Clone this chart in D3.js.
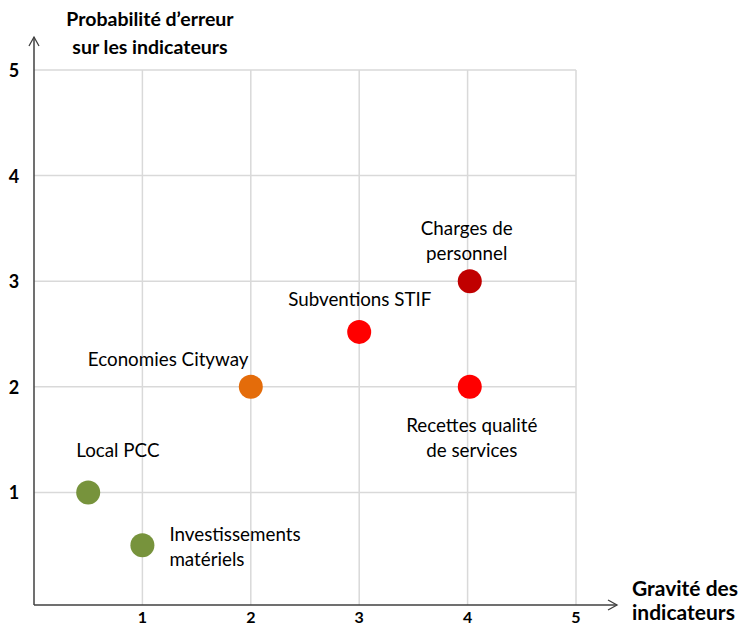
<!DOCTYPE html>
<html>
<head>
<meta charset="utf-8">
<script src="https://cdn.jsdelivr.net/npm/d3@7"></script>
<style>
  body { margin: 0; background: #fff; }
  text { font-family: Lato, "Open Sans", sans-serif; fill: #000; }
</style>
</head>
<body>
<div id="chart"></div>
<script>
// indicateurs
var names = ["Local PCC", "Investissements matériels", "Economies Cityway",
             "Subventions STIF", "Charges de personnel", "Recettes qualité de services"];
var gravite = [0.5, 1, 2, 3, 4.02, 4.02];
var probabilite = [1, 0.5, 2, 2.52, 3, 2];
var colors = ["#77933c", "#77933c", "#e46c0a", "#ff0000", "#c00000", "#ff0000"];
var ticks = [1, 2, 3, 4, 5];

// label lines + offset from point (px), anchor
var labelLines = [["Local PCC"], ["Investissements", "matériels"], ["Economies Cityway"],
                  ["Subventions STIF"], ["Charges de", "personnel"], ["Recettes qualité", "de services"]];
var labelPos = [
  { dx: -12, dy: -35, anchor: "start" },
  { dx: 27, dy: -4, anchor: "start" },
  { dx: -163, dy: -21, anchor: "start" },
  { dx: -71, dy: -26, anchor: "start" },
  { dx: -3, dy: -46, anchor: "middle" },
  { dx: 2, dy: 45, anchor: "middle" }
];

var width = 746, height = 628;

var svg = d3.select("#chart")
    .append("svg")
    .attr("width", width)
    .attr("height", height);

var x = d3.scaleLinear().domain([0, 5]).range([34, 576]);
var y = d3.scaleLinear().domain([0, 5]).range([598, 70]);
var axisY = 605;

// grid
svg.append("g")
    .selectAll("line")
    .data(ticks)
    .enter()
    .append("line")
    .attr("x1", function(d) { return x(d); })
    .attr("x2", function(d) { return x(d); })
    .attr("y1", y(5))
    .attr("y2", axisY)
    .attr("stroke", "#d9d9d9")
    .attr("stroke-width", 1.5);

svg.append("g")
    .selectAll("line")
    .data(ticks)
    .enter()
    .append("line")
    .attr("x1", x(0))
    .attr("x2", x(5))
    .attr("y1", function(d) { return y(d); })
    .attr("y2", function(d) { return y(d); })
    .attr("stroke", "#d9d9d9")
    .attr("stroke-width", 1.5);

// axes
svg.append("line")
    .attr("x1", x(0)).attr("x2", x(0))
    .attr("y1", axisY).attr("y2", 37)
    .attr("stroke", "#404040").attr("stroke-width", 1.5);
svg.append("path")
    .attr("d", "M" + (x(0) - 5) + ",46 L" + x(0) + ",37 L" + (x(0) + 5) + ",46")
    .attr("fill", "none").attr("stroke", "#404040").attr("stroke-width", 1.3);

svg.append("line")
    .attr("x1", x(0)).attr("x2", 617)
    .attr("y1", axisY).attr("y2", axisY)
    .attr("stroke", "#404040").attr("stroke-width", 1.5);
svg.append("path")
    .attr("d", "M608," + (axisY - 5) + " L617," + axisY + " L608," + (axisY + 5))
    .attr("fill", "none").attr("stroke", "#404040").attr("stroke-width", 1.3);

// tick labels
svg.append("g")
    .selectAll("text")
    .data(ticks)
    .enter()
    .append("text")
    .attr("x", 14)
    .attr("y", function(d) { return y(d) + 7; })
    .attr("text-anchor", "middle")
    .attr("font-weight", "bold")
    .attr("font-size", 18)
    .text(function(d) { return d; });

svg.append("g")
    .selectAll("text")
    .data(ticks)
    .enter()
    .append("text")
    .attr("x", function(d) { return x(d); })
    .attr("y", 623)
    .attr("text-anchor", "middle")
    .attr("font-weight", "bold")
    .attr("font-size", 16)
    .text(function(d) { return d; });

// axis titles
var yTitle = svg.append("text")
    .attr("text-anchor", "middle")
    .attr("font-weight", "bold")
    .attr("font-size", 19.5);
yTitle.append("tspan").attr("x", 150).attr("y", 26).text("Probabilité d’erreur");
yTitle.append("tspan").attr("x", 150).attr("y", 54).text("sur les indicateurs");

var xTitle = svg.append("text")
    .attr("text-anchor", "start")
    .attr("font-weight", "bold")
    .attr("font-size", 21);
xTitle.append("tspan").attr("x", 632).attr("y", 596).text("Gravité des");
xTitle.append("tspan").attr("x", 632).attr("y", 620).text("indicateurs");

// points
svg.append("g")
    .selectAll("circle")
    .data(names)
    .enter()
    .append("circle")
    .attr("cx", function(d, i) { return x(gravite[i]); })
    .attr("cy", function(d, i) { return y(probabilite[i]); })
    .attr("r", 12)
    .attr("fill", function(d, i) { return colors[i]; });

// labels
var labels = svg.append("g")
    .selectAll("text")
    .data(names)
    .enter()
    .append("text")
    .attr("font-size", 18.8)
    .attr("text-anchor", function(d, i) { return labelPos[i].anchor; });

labels.each(function(d, i) {
    var t = d3.select(this);
    var px = x(gravite[i]) + labelPos[i].dx;
    var py = y(probabilite[i]) + labelPos[i].dy;
    labelLines[i].forEach(function(line, k) {
        t.append("tspan")
            .attr("x", px)
            .attr("y", py + k * 25)
            .text(line);
    });
});
</script>
</body>
</html>
